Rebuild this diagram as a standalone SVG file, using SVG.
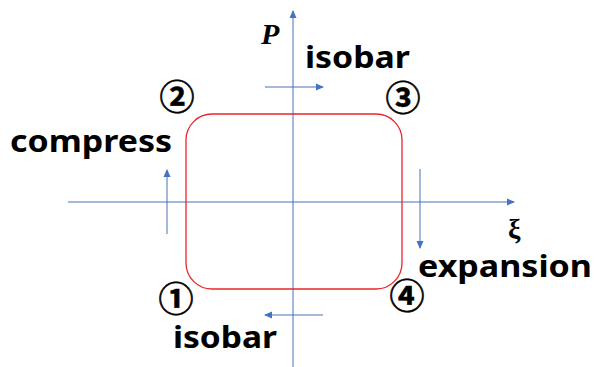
<svg xmlns="http://www.w3.org/2000/svg" width="594" height="367" viewBox="0 0 594 367">
<defs>
<marker id="ah" markerWidth="8" markerHeight="8" refX="7" refY="4" orient="auto" markerUnits="userSpaceOnUse">
<path d="M0,0.5 L8,4 L0,7.5 Z" fill="#4472c4"/>
</marker>
</defs>
<style>
.ax{stroke:#4a6fb5;stroke-width:1;fill:none}
.lbl{font-family:"Noto Sans","Open Sans",sans-serif;font-weight:bold;font-size:31px;fill:#000}
.num{font-family:"Noto Sans CJK JP",sans-serif;font-weight:bold;font-size:35px;fill:#000;stroke:#000;stroke-width:0.6;text-anchor:middle}
</style>
<rect width="594" height="367" fill="#fff"/>
<g id="connectors">
<line class="ax" x1="293" y1="367" x2="293" y2="11" marker-end="url(#ah)"/>
<line class="ax" x1="68" y1="202" x2="514" y2="202" marker-end="url(#ah)"/>
<line class="ax" x1="265" y1="87" x2="323" y2="87" marker-end="url(#ah)"/>
<line class="ax" x1="323" y1="315" x2="265" y2="315" marker-end="url(#ah)"/>
<line class="ax" x1="167" y1="234" x2="167" y2="170" marker-end="url(#ah)"/>
<line class="ax" x1="420" y1="169" x2="420" y2="248" marker-end="url(#ah)"/>
</g>
<g id="cycle">
<rect x="186" y="114" width="216" height="175" rx="26" ry="26" fill="none" stroke="#e8262b" stroke-width="1.3"/>
</g>
<g id="axis-labels">
<text x="261" y="44" font-family="Liberation Serif,serif" font-style="italic" font-weight="bold" font-size="30">P</text>
<text x="508" y="238" font-family="Liberation Serif,serif" font-weight="bold" font-size="28">ξ</text>
</g>
<g id="label-isobar-top"><text class="lbl" x="305" y="68" textLength="105" lengthAdjust="spacingAndGlyphs">isobar</text></g>
<g id="label-compress"><text class="lbl" x="10" y="152" textLength="162" lengthAdjust="spacingAndGlyphs">compress</text></g>
<g id="label-expansion"><text class="lbl" x="418" y="277" textLength="174" lengthAdjust="spacingAndGlyphs">expansion</text></g>
<g id="label-isobar-bottom"><text class="lbl" x="173" y="348" textLength="104" lengthAdjust="spacingAndGlyphs">isobar</text></g>
<g id="state-1"><text class="num" x="176" y="312">①</text></g>
<g id="state-2"><text class="num" x="177" y="110">②</text></g>
<g id="state-3"><text class="num" x="403" y="111">③</text></g>
<g id="state-4"><text class="num" x="407" y="309">④</text></g>
</svg>
